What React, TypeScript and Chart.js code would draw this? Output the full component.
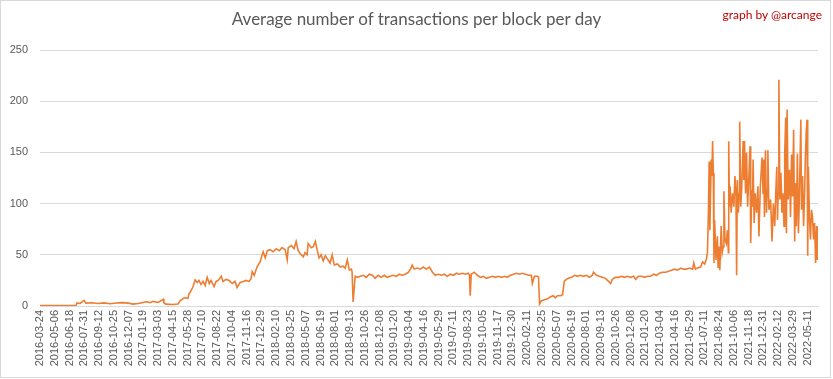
import { useEffect, useRef } from "react";
import { Chart, registerables } from "chart.js";
Chart.register(...registerables);

const tickLabels = [
  "2016-03-24", "2016-05-06", "2016-06-18", "2016-07-31", "2016-09-12", "2016-10-25", "2016-12-07",
  "2017-01-19", "2017-03-03", "2017-04-15", "2017-05-28", "2017-07-10", "2017-08-22", "2017-10-04",
  "2017-11-16", "2017-12-29", "2018-02-10", "2018-03-25", "2018-05-07", "2018-06-19", "2018-08-01",
  "2018-09-13", "2018-10-26", "2018-12-08", "2019-01-20", "2019-03-04", "2019-04-16", "2019-05-29",
  "2019-07-11", "2019-08-23", "2019-10-05", "2019-11-17", "2019-12-30", "2020-02-11", "2020-03-25",
  "2020-05-07", "2020-06-19", "2020-08-01", "2020-09-13", "2020-10-26", "2020-12-08", "2021-01-20",
  "2021-03-04", "2021-04-16", "2021-05-29", "2021-07-11", "2021-08-24", "2021-10-06", "2021-11-18",
  "2021-12-31", "2022-02-12", "2022-03-29", "2022-05-11",
];
const tickStep = 43;
const yTicks = [0, 50, 100, 150, 200, 250];

// day index (category position) of each sampled point
const dayIndex = [
  0, 105, 108, 117, 128, 134, 152, 169, 187, 204,
  222, 239, 257, 271, 286, 300, 309, 321, 329, 344,
  359, 361, 367, 385, 402, 408, 420, 431, 434, 440,
  446, 452, 458, 463, 469, 475, 481, 487, 493, 498,
  507, 513, 519, 528, 533, 542, 551, 560, 568, 574,
  583, 592, 600, 609, 615, 618, 624, 632, 641, 647,
  650, 656, 662, 670, 679, 688, 697, 705, 714, 720,
  723, 732, 740, 746, 752, 758, 767, 772, 778, 781,
  790, 796, 802, 807, 813, 819, 825, 831, 837, 845,
  851, 857, 866, 875, 883, 889, 895, 901, 907, 909,
  912, 918, 924, 933, 942, 950, 959, 968, 976, 985,
  994, 1003, 1011, 1020, 1029, 1038, 1046, 1055, 1064, 1073,
  1079, 1084, 1090, 1099, 1108, 1116, 1125, 1134, 1143, 1151,
  1160, 1169, 1178, 1186, 1195, 1204, 1213, 1221, 1230, 1239,
  1248, 1251, 1253, 1256, 1265, 1274, 1283, 1291, 1300, 1309,
  1318, 1327, 1335, 1344, 1353, 1361, 1370, 1379, 1388, 1396,
  1405, 1414, 1423, 1431, 1434, 1440, 1449, 1452, 1455, 1460,
  1469, 1478, 1487, 1495, 1501, 1507, 1516, 1522, 1527, 1533,
  1539, 1548, 1557, 1565, 1574, 1583, 1592, 1600, 1609, 1612,
  1621, 1629, 1638, 1647, 1656, 1662, 1667, 1676, 1685, 1694,
  1702, 1711, 1720, 1729, 1735, 1743, 1752, 1761, 1769, 1778,
  1787, 1796, 1804, 1813, 1822, 1831, 1839, 1848, 1857, 1866,
  1874, 1883, 1892, 1901, 1904, 1909, 1915, 1924, 1930, 1936,
  1941, 1944, 1947, 1949, 1951, 1955, 1957, 1959, 1961, 1963,
  1965, 1969, 1973, 1975, 1977, 1980, 1984, 1987, 1990, 1992,
  1995, 1999, 2002, 2005, 2006, 2008, 2010, 2013, 2017, 2021,
  2024, 2027, 2029, 2031, 2034, 2037, 2038, 2041, 2044, 2048,
  2050, 2052, 2055, 2058, 2061, 2064, 2068, 2070, 2073, 2075,
  2077, 2080, 2083, 2087, 2091, 2094, 2098, 2103, 2106, 2108,
  2110, 2113, 2116, 2118, 2120, 2123, 2128, 2132, 2136, 2140,
  2143, 2146, 2148, 2150, 2152, 2155, 2158, 2161, 2164, 2167,
  2169, 2172, 2174, 2176, 2179, 2183, 2186, 2189, 2192, 2195,
  2198, 2201, 2203, 2206, 2209, 2212, 2216, 2218, 2221, 2224,
  2227, 2229, 2232, 2234, 2236, 2238, 2241, 2244, 2247, 2250,
  2253, 2256, 2259, 2262, 2264, 2266,
];

// average number of transactions per block at each sampled point
const txPerBlock = [
  0.5, 0.6, 3, 2.5, 5.5, 2.8, 3.2, 2.5, 3, 2.2,
  3, 3.3, 2.8, 1.8, 2.5, 3.5, 4.2, 3.3, 4.5, 3.5,
  6.5, 3, 1.8, 1.5, 2, 5, 8, 7.5, 12, 15,
  19, 25.5, 23, 25, 21, 24, 20, 28, 22, 25,
  19, 24, 25, 29, 24, 26, 25, 22, 24, 18,
  23, 24, 25, 24, 27, 33.6, 30, 38, 43, 50,
  53, 47, 54, 55, 53, 56, 54, 57, 55, 45,
  57, 59, 56, 63, 54, 51, 48, 52, 50, 61,
  57, 58, 63, 55, 47, 50, 44, 49, 46, 42,
  50, 40, 41, 38, 39, 37, 45, 35, 36, 33,
  4, 29, 28, 29, 30, 28, 31, 30, 27, 30,
  28, 30, 28, 29, 30, 29, 31, 30, 31, 33,
  36, 40, 36, 37, 36, 38, 36, 38, 33, 30,
  31, 30, 31, 29, 31, 30, 32, 31, 32, 31,
  32, 30, 10, 31, 33, 30, 28, 29, 27, 28,
  29, 28, 29, 28, 29, 28, 30, 31, 32, 31,
  32, 31, 30, 30, 22, 29, 29, 28, 2, 5,
  6, 7, 9, 10, 8, 10, 10, 11, 24, 26,
  27, 28, 30, 29, 30, 29, 30, 28, 30, 33,
  30, 29, 28, 27, 24, 22, 26, 28, 28, 29,
  28, 29, 28, 29, 26, 29, 29, 28, 29, 29,
  31, 30, 32, 33, 33, 34, 35, 36, 35, 37,
  36, 36, 37, 36, 42, 36, 37, 38, 43, 41,
  46, 52, 94, 141, 74, 143, 127, 161, 130, 42,
  84, 45, 68, 38, 58, 35, 78, 52, 58, 112,
  65, 61, 74, 52, 161, 97, 117, 91, 110, 97,
  127, 110, 30, 123, 91, 110, 180, 97, 117, 161,
  123, 161, 110, 150, 97, 120, 156, 61.5, 113, 97,
  143, 81, 110, 91, 117, 68, 117, 145, 110, 143,
  87, 152, 91, 113, 152, 94, 104, 63, 100, 78,
  110, 136, 84, 110, 221, 104, 130, 91, 110, 78,
  149, 184, 71, 192, 104, 133, 87, 148, 107, 172,
  63, 120, 78, 149, 71, 110, 182, 94, 127, 78,
  110, 143, 172, 182, 49, 136, 87, 65, 94, 87,
  65, 81, 42, 78, 45, 78,
];

const TITLE = "Average number of transactions per block per day";
const CREDIT = "graph by @arcange";

export default function App() {
  const ref = useRef<HTMLCanvasElement>(null);

  useEffect(() => {
    const points = dayIndex.map((x, i) => ({ x, y: txPerBlock[i] }));
    const chart = new Chart(ref.current as HTMLCanvasElement, {
      type: "line",
      data: {
        datasets: [
          {
            data: points,
            borderColor: "#ED7D31",
            borderWidth: 1.6,
            pointRadius: 0,
            tension: 0,
            fill: false,
          },
        ],
      },
      options: {
        animation: false,
        responsive: false,
        events: [],
        layout: { padding: { top: 50, right: 15, left: 0, bottom: 0 } },
        plugins: { legend: { display: false }, tooltip: { enabled: false } },
        scales: {
          x: {
            type: "linear",
            min: 0,
            max: dayIndex[dayIndex.length - 1],
            afterBuildTicks: (s: any) => {
              s.ticks = tickLabels.map((_, i) => ({ value: i * tickStep }));
            },
            afterFit: (s: any) => {
              s.height = 73;
            },
            ticks: {
              autoSkip: false,
              minRotation: 90,
              maxRotation: 90,
              padding: 4,
              color: "#595959",
              font: { family: "Liberation Sans", size: 11 },
              callback: (v: any) => tickLabels[Math.round(Number(v) / tickStep)] ?? "",
            },
            grid: { display: false, drawTicks: false },
            border: { display: true, color: "#d9d9d9" },
          },
          y: {
            min: 0,
            max: 250,
            afterBuildTicks: (s: any) => {
              s.ticks = yTicks.map((v) => ({ value: v }));
            },
            afterFit: (s: any) => {
              s.width = 40;
            },
            ticks: {
              padding: 12,
              color: "#595959",
              font: { family: "Liberation Sans", size: 11 },
            },
            grid: { color: "#d9d9d9", drawTicks: false },
            border: { display: false },
          },
        },
      },
    });
    return () => chart.destroy();
  }, []);

  return (
    <div style={{ position: "absolute", left: 0, top: 0, width: 833, height: 379, background: "#fff" }}>
      <canvas ref={ref} width={833} height={379} style={{ position: "absolute", left: 0, top: 0, width: 833, height: 379 }} />
      <div
        style={{
          position: "absolute",
          left: 0,
          top: 0,
          width: 831,
          height: 378,
          boxSizing: "border-box",
          border: "1px solid #d9d9d9",
          pointerEvents: "none",
        }}
      />
      <div
        style={{
          position: "absolute",
          left: 0,
          top: 8,
          width: 833,
          textAlign: "center",
          fontFamily: "Lato, 'Liberation Sans', sans-serif",
          fontWeight: 400,
          fontSize: 17,
          color: "#595959",
          whiteSpace: "nowrap",
        }}
      >
        {TITLE}
      </div>
      <div
        style={{
          position: "absolute",
          right: 11,
          top: 7,
          fontFamily: "Lato, 'Liberation Sans', sans-serif",
          fontSize: 12,
          color: "#C00000",
          whiteSpace: "nowrap",
        }}
      >
        {CREDIT}
      </div>
    </div>
  );
}
